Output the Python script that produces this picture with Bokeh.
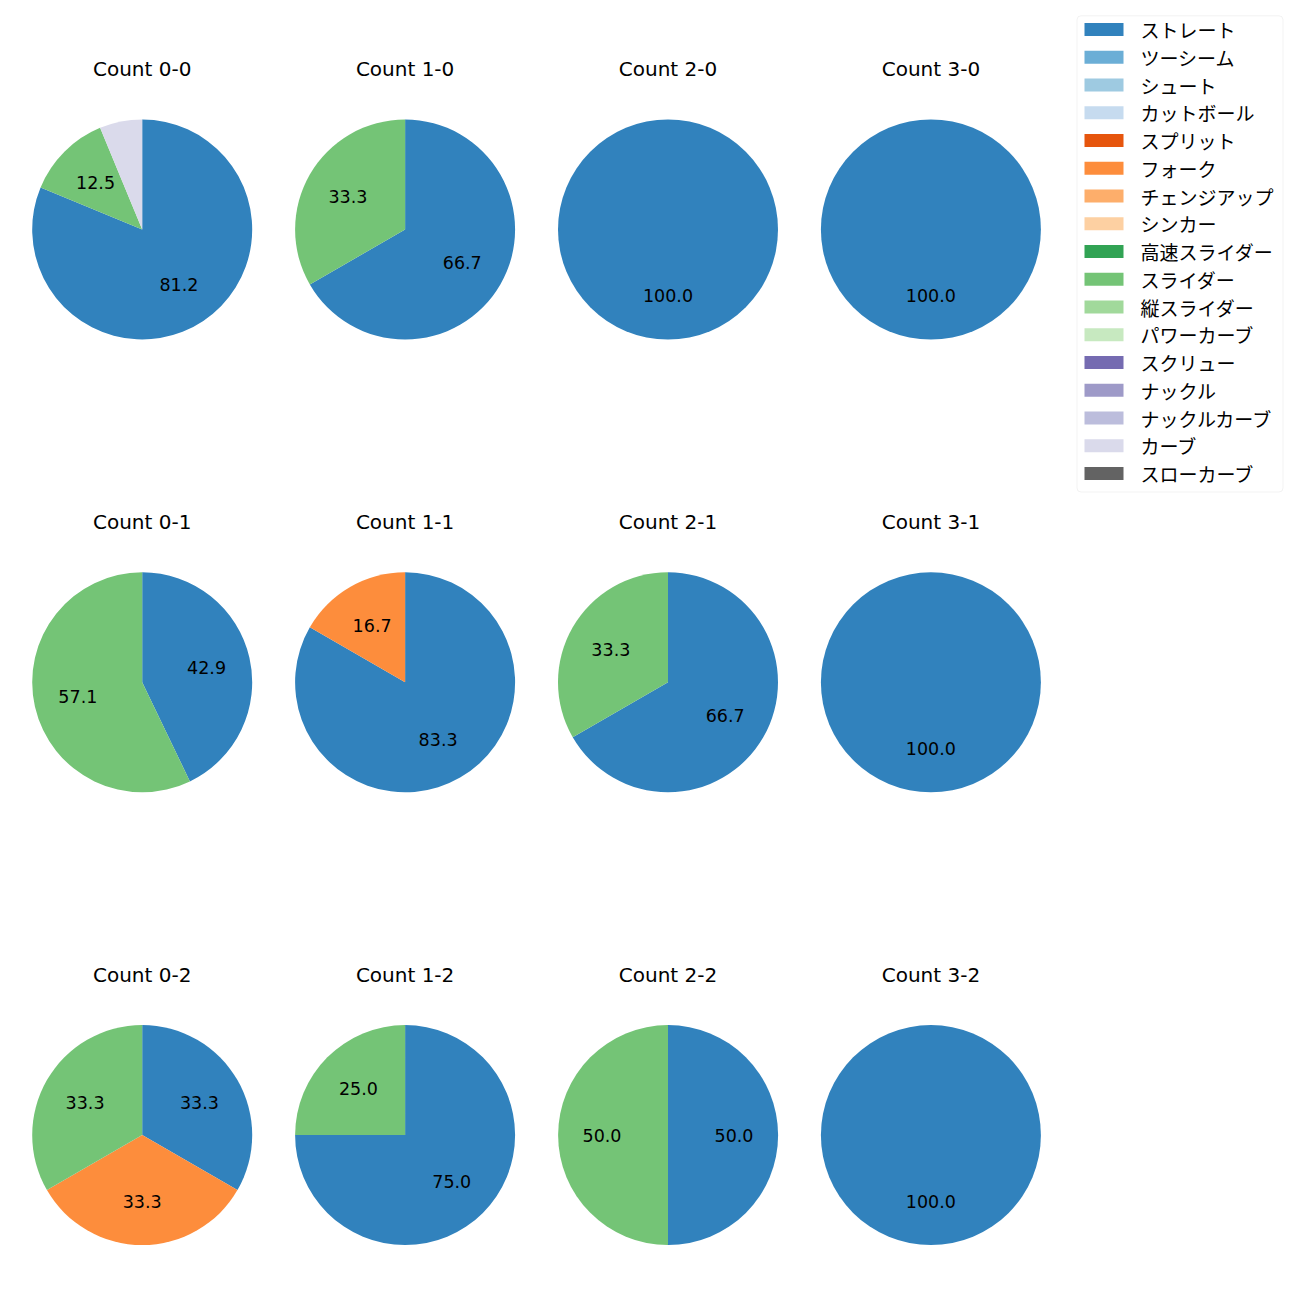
import math
from bokeh.plotting import figure
from bokeh.models import Range1d, ColumnDataSource, BoxAnnotation
from bokeh.core.properties import value
from bokeh.embed import file_html
from bokeh.resources import INLINE

# ---- data ----
pitch_types = ["ストレート", "ツーシーム", "シュート", "カットボール", "スプリット", "フォーク",
               "チェンジアップ", "シンカー", "高速スライダー", "スライダー", "縦スライダー",
               "パワーカーブ", "スクリュー", "ナックル", "ナックルカーブ", "カーブ", "スローカーブ"]
pitch_colors = ["#3182bd", "#6baed6", "#9ecae1", "#c6dbef", "#e6550d", "#fd8d3c",
                "#fdae6b", "#fdd0a2", "#31a354", "#74c476", "#a1d99b", "#c7e9c0",
                "#756bb1", "#9e9ac8", "#bcbddc", "#dadaeb", "#636363"]
count_labels = ["0-0", "1-0", "2-0", "3-0", "0-1", "1-1", "2-1", "3-1", "0-2", "1-2", "2-2", "3-2"]
straight = [13, 2, 1, 1, 3, 5, 2, 1, 1, 3, 1, 1]
fork     = [0, 0, 0, 0, 0, 1, 0, 0, 1, 0, 0, 0]
slider   = [2, 1, 0, 0, 4, 0, 1, 0, 1, 1, 1, 0]
curve    = [1, 0, 0, 0, 0, 0, 0, 0, 0, 0, 0, 0]
series = {"ストレート": straight, "フォーク": fork, "スライダー": slider, "カーブ": curve}

# ---- layout ----
JP_FONT = value("Noto Sans CJK JP")
LAT_FONT = value("DejaVu Sans")
SZ = 1284
def Y(py):
    return SZ - py

col_x0, col_dx = 141.7, 262.9
row_y0, row_dy = 229.0, 452.8
R = 110.0

p = figure(width=SZ, height=SZ, x_range=Range1d(0, SZ), y_range=Range1d(0, SZ),
           output_backend="svg", toolbar_location=None, min_border=0,
           x_axis_location=None, y_axis_location=None)
p.grid.visible = False
p.outline_line_color = None
p.background_fill_color = "white"
p.border_fill_color = "white"

wx, wy, ws, we, wc = [], [], [], [], []
cx_full, cy_full, c_full = [], [], []
lx, ly, lt = [], [], []
tx, ty, tt = [], [], []

for i, lab in enumerate(count_labels):
    col, row = i % 4, i // 4
    cx = col_x0 + col * col_dx
    cy = Y(row_y0 + row * row_dy)
    tx.append(cx); ty.append(Y(row_y0 + row * row_dy - 160.5)); tt.append("Count " + lab)
    total = sum(series[k][i] for k in series)
    start = math.pi / 2
    for k, name in enumerate(pitch_types):
        if name not in series:
            continue
        v = series[name][i]
        if v <= 0:
            continue
        frac = v / total
        end = start - frac * 2 * math.pi
        if frac >= 0.9999:
            cx_full.append(cx); cy_full.append(cy); c_full.append(pitch_colors[k])
        else:
            wx.append(cx); wy.append(cy); ws.append(end); we.append(start); wc.append(pitch_colors[k])
        pct = frac * 100
        if pct >= 10:
            mid = (start + end) / 2
            lx.append(cx + 0.6 * R * math.cos(mid))
            ly.append(cy + 0.6 * R * math.sin(mid))
            lt.append(f"{pct:.1f}")
        start = end

p.wedge(x="x", y="y", radius=R, start_angle="s", end_angle="e", color="c",
        source=ColumnDataSource(dict(x=wx, y=wy, s=ws, e=we, c=wc)), line_color=None)
p.circle(x="x", y="y", radius=R, color="c",
         source=ColumnDataSource(dict(x=cx_full, y=cy_full, c=c_full)), line_color=None)
p.text(x="x", y="y", text="t", source=ColumnDataSource(dict(x=lx, y=ly, t=lt)),
       text_align="center", text_baseline="middle", text_font=LAT_FONT, text_font_size="17.5px",
       text_color="#000000")
p.text(x="x", y="y", text="t", source=ColumnDataSource(dict(x=tx, y=ty, t=tt)),
       text_align="center", text_baseline="middle", text_font=LAT_FONT, text_font_size="20px",
       text_color="#000000")

# ---- legend ----
box = BoxAnnotation(left=1076.5, right=1282.5, top=Y(15.3), bottom=Y(491.5), fill_color="white",
                    fill_alpha=0.8, line_color="#d4d4d4", line_width=1, border_radius=4)
p.add_layout(box)
row_py = [29.0 + 27.75 * k for k in range(len(pitch_types))]
p.quad(left=[1084] * len(pitch_types), right=[1123] * len(pitch_types),
       top=[Y(v - 6.5) for v in row_py], bottom=[Y(v + 6.5) for v in row_py],
       color=pitch_colors, line_color=None, level="overlay")
p.text(x=[1140] * len(pitch_types), y=[Y(v) for v in row_py], text=pitch_types,
       text_align="left", text_baseline="middle", text_font=JP_FONT, text_font_size="19px",
       text_color="#000000", level="overlay")

open("out.html", "w").write(file_html(p, INLINE))
